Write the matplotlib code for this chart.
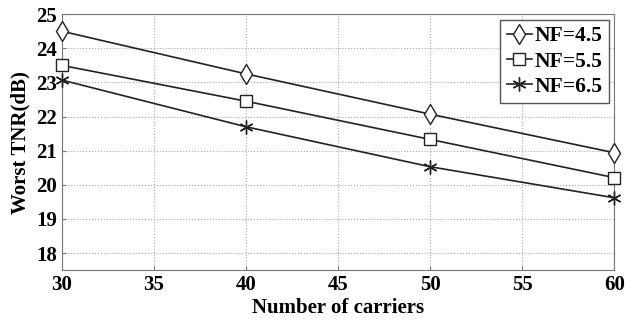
import numpy as np
import matplotlib
matplotlib.use('Agg')
import matplotlib.pyplot as plt

plt.rcParams['font.family'] = ['Liberation Serif', 'DejaVu Serif']
plt.rcParams['font.weight'] = 'bold'

carriers = [30, 40, 50, 60]
tnr_nf45 = [24.5, 23.25, 22.07, 20.94]
tnr_nf55 = [23.5, 22.45, 21.33, 20.21]
tnr_nf65 = [23.07, 21.7, 20.53, 19.62]

fig = plt.figure(figsize=(6.25, 3.22), dpi=100)
ax = fig.add_axes([0.099, 0.161, 0.884, 0.795])

ax.plot(carriers, tnr_nf45, color='#222222', lw=1.2, marker='d', ms=10,
        mfc='white', mec='#222222', mew=1.0, label='NF=4.5', clip_on=False, zorder=3)
ax.plot(carriers, tnr_nf55, color='#222222', lw=1.2, marker='s', ms=8,
        mfc='white', mec='#222222', mew=1.0, label='NF=5.5', clip_on=False, zorder=3)
ax.plot(carriers, tnr_nf65, color='#222222', lw=1.2, marker=(6, 2, 0), ms=10,
        mec='#222222', mew=1.0, label='NF=6.5', clip_on=False, zorder=3)

ax.set_xlim(30, 60)
ax.set_ylim(17.5, 25)
ax.set_xticks(np.arange(30, 61, 5))
ax.set_yticks(np.arange(18, 26, 1))
ax.grid(True, ls=':', color='#aaaaaa', lw=0.8)
for s in ax.spines.values():
    s.set_color('#777777')
ax.tick_params(labelsize=15, direction='in', length=3, color='#777777')
for lbl in ax.get_xticklabels() + ax.get_yticklabels():
    lbl.set_fontweight('bold')

ax.set_xlabel('Number of carriers', fontsize=15, fontweight='bold', labelpad=2)
ax.set_ylabel('Worst TNR(dB)', fontsize=15, fontweight='bold', labelpad=4)

leg = ax.legend(loc='upper right', prop={'weight': 'bold', 'size': 15.5},
                fancybox=False, framealpha=1, edgecolor='#555555',
                handlelength=1.2, handletextpad=0.1, borderpad=0.3,
                labelspacing=0.25, borderaxespad=0.25)
leg.set_zorder(5)

fig.savefig('out.png', dpi=100)
